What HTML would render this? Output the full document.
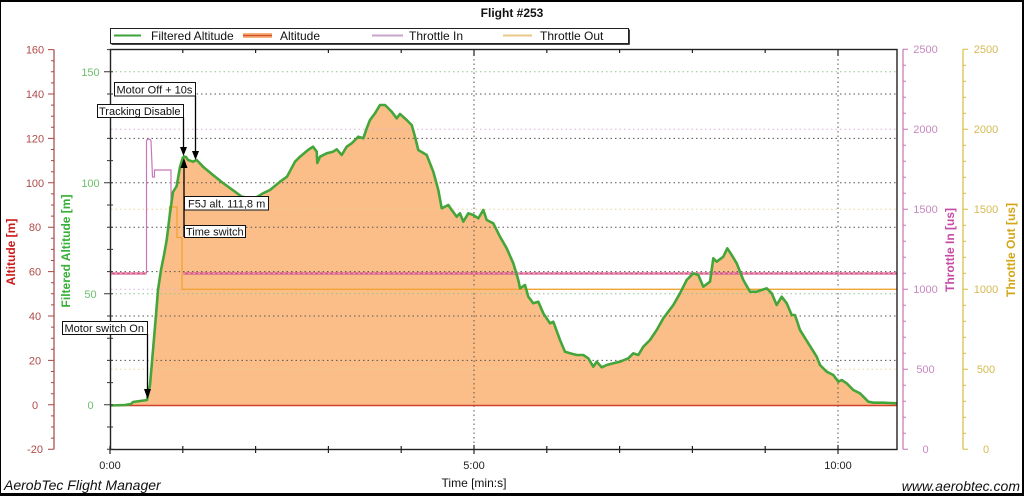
<!DOCTYPE html>
<html><head><meta charset="utf-8"><style>
html,body{margin:0;padding:0;background:#fff;}
svg{display:block;}
text{font-family:"Liberation Sans",Arial,sans-serif;}
</style></head><body>
<svg width="1024" height="496" viewBox="0 0 1024 496" xmlns="http://www.w3.org/2000/svg">
<rect x="0" y="0" width="1024" height="496" fill="#fff"/>
<!-- outer border -->
<rect x="0" y="0" width="1024" height="2" fill="#000"/>
<rect x="0" y="493" width="1024" height="3" fill="#000"/>
<rect x="0" y="0" width="1" height="496" fill="#000"/>
<rect x="1022" y="0" width="2" height="496" fill="#000"/>

<!-- title -->
<text x="512" y="17" font-size="12" font-weight="bold" text-anchor="middle" fill="#111">Flight #253</text>

<!-- legend -->
<rect x="110.5" y="28.5" width="518" height="15" fill="#fff" stroke="#222" stroke-width="1"/>
<line x1="629.5" y1="29.5" x2="629.5" y2="44.5" stroke="#444" stroke-width="1"/>
<line x1="111.5" y1="44.5" x2="629.5" y2="44.5" stroke="#444" stroke-width="1"/>
<line x1="114" y1="35.5" x2="141" y2="35.5" stroke="#3ea23a" stroke-width="2"/>
<text x="151" y="40" font-size="12" fill="#111">Filtered Altitude</text>
<line x1="243" y1="35.5" x2="272" y2="35.5" stroke="#f7b47c" stroke-width="5"/>
<line x1="243" y1="35.5" x2="272" y2="35.5" stroke="#d2502a" stroke-width="1.5"/>
<text x="280" y="40" font-size="12" fill="#111">Altitude</text>
<line x1="372" y1="35.5" x2="403" y2="35.5" stroke="#c9a6c9" stroke-width="2"/>
<text x="409" y="40" font-size="12" fill="#111">Throttle In</text>
<line x1="503" y1="35.5" x2="532" y2="35.5" stroke="#e8c98a" stroke-width="2"/>
<text x="540" y="40" font-size="12" fill="#111">Throttle Out</text>

<!-- fill under filtered altitude -->
<path fill="#fcbe88" stroke="none" d="M110,405.5 L125,405 L131,404 L133,402 L147,400 L150,385 L153,350 L156,315 L158,290 L161,270 L164,255 L166.7,240 L170,213 L173,192 L176.7,186 L180,167 L182.7,158 L184,156.5 L186,157 L188,160 L193,161.7 L196.7,160 L203,166.7 L213,175 L223,183 L235,191.7 L241.7,196.7 L250,198 L257,197 L263,193.3 L270,190 L280,181.7 L287,176.7 L295,161.7 L300,156.7 L308,150 L313,146.7 L316.7,151.7 L317.3,163 L320,156.7 L326.7,153.3 L333,151.7 L336.7,149.3 L341.7,155 L346.7,146.7 L351.7,143.3 L355,140 L358.3,136.7 L363.3,138.3 L366.7,128.3 L370,120 L375,113.3 L380,105 L385,105 L391.7,111.7 L396.7,118.3 L400,114 L406.7,120 L411.7,125 L415,136.7 L418.3,150 L426.7,155 L433.3,171.7 L438.3,190 L441.7,208.3 L448.3,205 L451.7,210 L456.7,216.7 L460,213.3 L463.3,221.7 L468.3,213.3 L473.3,215 L478.3,218.3 L483.3,210 L486.7,220 L493.3,223.3 L500,236.7 L506.7,248.3 L513.3,263.3 L518.3,280 L520,288.3 L525,285 L528.3,296.7 L533.3,303.3 L538.3,301.7 L543.3,313.3 L550,323.3 L553.3,321.7 L560,340 L565,351.7 L570,353.3 L576.7,355 L583.3,355 L588.3,358.3 L593.3,366.7 L596.7,361.7 L601.7,367.3 L606.7,365 L613.3,363.3 L620,361.7 L628.3,358.3 L633.3,353.3 L638.3,355 L643.3,346.7 L650,340 L656.7,330 L663.3,318.3 L673.3,305 L680,293.3 L686.7,280 L693.3,273.3 L698.3,275 L703.3,286.7 L710,281.7 L713.3,258.3 L716.7,261.7 L723.3,256.7 L727.3,248.3 L731.7,255 L736.7,263.3 L743.3,280 L750,291.7 L756.7,291.7 L761.7,290 L766.7,288.3 L771.7,293.3 L776.7,305 L781.7,296.7 L786.7,303.3 L791.7,315 L795,315 L800,330 L808.3,343.3 L816.7,356.7 L820,365 L826.7,371.7 L833.3,375 L838.3,381.7 L841.7,380 L846.7,383.3 L853.3,390 L860,393.3 L868.3,401.7 L873.3,402.7 L883.3,402.7 L896.7,403.3 L897,405.5 Z"/>

<!-- grid lines -->
<g stroke-width="1" stroke-dasharray="1.5 3" fill="none">
  <g stroke="#555">
    <line x1="111" y1="94" x2="896" y2="94"/>
    <line x1="111" y1="138.4" x2="896" y2="138.4"/>
    <line x1="111" y1="182.8" x2="896" y2="182.8"/>
    <line x1="111" y1="227.2" x2="896" y2="227.2"/>
    <line x1="111" y1="271.6" x2="896" y2="271.6"/>
    <line x1="111" y1="316" x2="896" y2="316"/>
    <line x1="111" y1="360.4" x2="896" y2="360.4"/>
    <line x1="474" y1="50" x2="474" y2="449"/>
    <line x1="838" y1="50" x2="838" y2="449"/>
  </g>
  <g stroke="#8cc88c">
    <line x1="111" y1="71.8" x2="896" y2="71.8"/>
    <line x1="111" y1="293.8" x2="896" y2="293.8"/>
  </g>
  <g stroke="#dcb0d4">
    <line x1="111" y1="129.2" x2="896" y2="129.2"/>
    <line x1="111" y1="289.2" x2="896" y2="289.2"/>
  </g>
  <g stroke="#e2d49a">
    <line x1="111" y1="209.2" x2="896" y2="209.2"/>
    <line x1="111" y1="369.2" x2="896" y2="369.2"/>
  </g>
</g>

<!-- altitude red line -->
<line x1="110" y1="405.5" x2="897" y2="405.5" stroke="#d0402a" stroke-width="1.6"/>

<!-- throttle in -->
<path d="M146.5,273.5 V141 C147,138.5 150,138.5 151,141 L152.5,177 H154.5 V170 H171 V212" fill="none" stroke="#c878b8" stroke-width="1.2"/>
<path d="M110,273.5 H146.5 M183,273.5 H897" fill="none" stroke="#d65a8c" stroke-width="2.2"/>
<path d="M110,273.5 H146.5 M183,273.5 H897" fill="none" stroke="#ee9ab8" stroke-width="1" stroke-dasharray="2 3"/>

<!-- throttle out -->
<path d="M169.5,222 V207 H177 V237.5 H182 V289.3 H897" fill="none" stroke="#f0a434" stroke-width="1.3"/>

<!-- filtered altitude green line -->
<path fill="none" stroke="#44a63a" stroke-width="2.6" stroke-linejoin="round" d="M110,405.5 L125,405 L131,404 L133,402 L147,400 L150,385 L153,350 L156,315 L158,290 L161,270 L164,255 L166.7,240 L170,213 L173,192 L176.7,186 L180,167 L182.7,158 L184,156.5 L186,157 L188,160 L193,161.7 L196.7,160 L203,166.7 L213,175 L223,183 L235,191.7 L241.7,196.7 L250,198 L257,197 L263,193.3 L270,190 L280,181.7 L287,176.7 L295,161.7 L300,156.7 L308,150 L313,146.7 L316.7,151.7 L317.3,163 L320,156.7 L326.7,153.3 L333,151.7 L336.7,149.3 L341.7,155 L346.7,146.7 L351.7,143.3 L355,140 L358.3,136.7 L363.3,138.3 L366.7,128.3 L370,120 L375,113.3 L380,105 L385,105 L391.7,111.7 L396.7,118.3 L400,114 L406.7,120 L411.7,125 L415,136.7 L418.3,150 L426.7,155 L433.3,171.7 L438.3,190 L441.7,208.3 L448.3,205 L451.7,210 L456.7,216.7 L460,213.3 L463.3,221.7 L468.3,213.3 L473.3,215 L478.3,218.3 L483.3,210 L486.7,220 L493.3,223.3 L500,236.7 L506.7,248.3 L513.3,263.3 L518.3,280 L520,288.3 L525,285 L528.3,296.7 L533.3,303.3 L538.3,301.7 L543.3,313.3 L550,323.3 L553.3,321.7 L560,340 L565,351.7 L570,353.3 L576.7,355 L583.3,355 L588.3,358.3 L593.3,366.7 L596.7,361.7 L601.7,367.3 L606.7,365 L613.3,363.3 L620,361.7 L628.3,358.3 L633.3,353.3 L638.3,355 L643.3,346.7 L650,340 L656.7,330 L663.3,318.3 L673.3,305 L680,293.3 L686.7,280 L693.3,273.3 L698.3,275 L703.3,286.7 L710,281.7 L713.3,258.3 L716.7,261.7 L723.3,256.7 L727.3,248.3 L731.7,255 L736.7,263.3 L743.3,280 L750,291.7 L756.7,291.7 L761.7,290 L766.7,288.3 L771.7,293.3 L776.7,305 L781.7,296.7 L786.7,303.3 L791.7,315 L795,315 L800,330 L808.3,343.3 L816.7,356.7 L820,365 L826.7,371.7 L833.3,375 L838.3,381.7 L841.7,380 L846.7,383.3 L853.3,390 L860,393.3 L868.3,401.7 L873.3,402.7 L883.3,402.7 L896.7,403.3"/>

<!-- plot frame -->
<rect x="110.5" y="49.5" width="786.5" height="400" fill="none" stroke="#222" stroke-width="1.4"/>
<!-- x ticks -->
<path stroke="#222" stroke-width="1.2" fill="none" d="M182.8,49 v4 M255.6,49 v4 M328.4,49 v4 M401.2,49 v4 M474,49 v7 M546.8,49 v4 M619.6,49 v4 M692.4,49 v4 M765.2,49 v4 M838,49 v7
M110,446 v8 M182.8,446 v7 M255.6,446 v7 M328.4,446 v7 M401.2,446 v7 M474,445 v9 M546.8,446 v7 M619.6,446 v7 M692.4,446 v7 M765.2,446 v7 M838,445 v9"/>
<!-- green axis ticks on frame -->
<path stroke="#333" stroke-width="1" fill="none" d="M107,449.2 h6 m-6,-22.2 h6 m-6,-22.2 h6 m-6,-22.2 h6 m-6,-22.2 h6 m-6,-22.2 h6 m-6,-22.2 h6 m-6,-22.2 h6 m-6,-22.2 h6 m-6,-22.2 h6 m-6,-22.2 h6 m-6,-22.2 h6 m-6,-22.2 h6 m-6,-22.2 h6 m-6,-22.2 h6 m-6,-22.2 h6 m-6,-22.2 h6 m-6,-22.2 h6 m-6,-22.2 h6
M104,404.8 h6 M104,293.8 h6 M104,182.8 h6 M104,71.8 h6"/>
<!-- x labels -->
<g font-size="11" fill="#222" text-anchor="middle">
  <text x="110" y="469">0:00</text>
  <text x="474" y="469">5:00</text>
  <text x="838" y="469">10:00</text>
</g>
<text x="474" y="487" font-size="12" fill="#111" text-anchor="middle">Time [min:s]</text>

<!-- red altitude axis -->
<line x1="54" y1="49.6" x2="54" y2="449.2" stroke="#a84444" stroke-width="1.2"/>
<path stroke="#a84444" stroke-width="1" fill="none" d="M51,49.6 h3 m-3,11.1 h3 m-3,11.1 h3 m-3,11.1 h3 m-3,11.1 h3 m-3,11.1 h3 m-3,11.1 h3 m-3,11.1 h3 m-3,11.1 h3 m-3,11.1 h3 m-3,11.1 h3 m-3,11.1 h3 m-3,11.1 h3 m-3,11.1 h3 m-3,11.1 h3 m-3,11.1 h3 m-3,11.1 h3 m-3,11.1 h3 m-3,11.1 h3 m-3,11.1 h3 m-3,11.1 h3 m-3,11.1 h3 m-3,11.1 h3 m-3,11.1 h3 m-3,11.1 h3 m-3,11.1 h3 m-3,11.1 h3 m-3,11.1 h3 m-3,11.1 h3 m-3,11.1 h3 m-3,11.1 h3 m-3,11.1 h3 m-3,11.1 h3 m-3,11.1 h3 m-3,11.1 h3 m-3,11.1 h3
M48,49.6 h6 m-6,44.4 h6 m-6,44.4 h6 m-6,44.4 h6 m-6,44.4 h6 m-6,44.4 h6 m-6,44.4 h6 m-6,44.4 h6 m-6,44.4 h6 m-6,44.4 h6"/>
<g font-size="11" fill="#b04a4a" text-anchor="middle">
  <text x="35" y="53.6">160</text>
  <text x="35" y="98">140</text>
  <text x="35" y="142.4">120</text>
  <text x="35" y="186.8">100</text>
  <text x="35" y="231.2">80</text>
  <text x="35" y="275.6">60</text>
  <text x="35" y="320">40</text>
  <text x="35" y="364.4">20</text>
  <text x="35" y="408.8">0</text>
  <text x="35" y="453.2">-20</text>
</g>
<text transform="translate(15,252) rotate(-90)" font-size="12" font-weight="bold" fill="#cc1a1a" text-anchor="middle">Altitude [m]</text>

<!-- green axis labels -->
<g font-size="11" fill="#6cbf6c" text-anchor="middle">
  <text x="90.5" y="75.8">150</text>
  <text x="90.5" y="186.8">100</text>
  <text x="90.5" y="297.8">50</text>
  <text x="90.5" y="408.8">0</text>
</g>
<text transform="translate(70,251) rotate(-90)" font-size="12" font-weight="bold" fill="#36b036" text-anchor="middle">Filtered Altitude [m]</text>

<!-- throttle in axis -->
<line x1="903" y1="49.2" x2="903" y2="449.2" stroke="#c476b4" stroke-width="1.2"/>
<path stroke="#c476b4" stroke-width="1" fill="none" d="M903,49.2 h3 m-3,16 h3 m-3,16 h3 m-3,16 h3 m-3,16 h3 m-3,16 h3 m-3,16 h3 m-3,16 h3 m-3,16 h3 m-3,16 h3 m-3,16 h3 m-3,16 h3 m-3,16 h3 m-3,16 h3 m-3,16 h3 m-3,16 h3 m-3,16 h3 m-3,16 h3 m-3,16 h3 m-3,16 h3 m-3,16 h3 m-3,16 h3 m-3,16 h3 m-3,16 h3 m-3,16 h3 m-3,16 h3
M903,49.2 h5 m-5,80 h5 m-5,80 h5 m-5,80 h5 m-5,80 h5 m-5,80 h5"/>
<g font-size="11" fill="#c888c0" text-anchor="middle">
  <text x="925.5" y="53.2">2500</text>
  <text x="925.5" y="133.2">2000</text>
  <text x="925.5" y="213.2">1500</text>
  <text x="925.5" y="293.2">1000</text>
  <text x="925.5" y="373.2">500</text>
  <text x="925.5" y="453.2">0</text>
</g>
<text transform="translate(954,250) rotate(-90)" font-size="12" font-weight="bold" fill="#c64aa6" text-anchor="middle">Throttle In [us]</text>

<!-- throttle out axis -->
<line x1="963" y1="49.2" x2="963" y2="449.2" stroke="#d8bc3c" stroke-width="1.2"/>
<path stroke="#d8bc3c" stroke-width="1" fill="none" d="M963,49.2 h3 m-3,16 h3 m-3,16 h3 m-3,16 h3 m-3,16 h3 m-3,16 h3 m-3,16 h3 m-3,16 h3 m-3,16 h3 m-3,16 h3 m-3,16 h3 m-3,16 h3 m-3,16 h3 m-3,16 h3 m-3,16 h3 m-3,16 h3 m-3,16 h3 m-3,16 h3 m-3,16 h3 m-3,16 h3 m-3,16 h3 m-3,16 h3 m-3,16 h3 m-3,16 h3 m-3,16 h3 m-3,16 h3
M963,49.2 h5 m-5,80 h5 m-5,80 h5 m-5,80 h5 m-5,80 h5 m-5,80 h5"/>
<g font-size="11" fill="#d6ba52" text-anchor="middle">
  <text x="986" y="53.2">2500</text>
  <text x="986" y="133.2">2000</text>
  <text x="986" y="213.2">1500</text>
  <text x="986" y="293.2">1000</text>
  <text x="986" y="373.2">500</text>
  <text x="986" y="453.2">0</text>
</g>
<text transform="translate(1015,250) rotate(-90)" font-size="12" font-weight="bold" fill="#d2a616" text-anchor="middle">Throttle Out [us]</text>

<!-- annotations -->
<g stroke="#000" stroke-width="1.3" fill="none">
  <line x1="147.5" y1="334" x2="147.5" y2="391"/>
  <line x1="183.5" y1="117.5" x2="183.5" y2="148"/>
  <line x1="195.5" y1="96" x2="195.5" y2="152"/>
  <line x1="184" y1="166" x2="184" y2="237"/>
</g>
<g fill="#000">
  <polygon points="144,389 151,389 147.5,399"/>
  <polygon points="180,147 187,147 183.5,156"/>
  <polygon points="192,151 199,151 195.5,160"/>
  <polygon points="180.5,168 187.5,168 184,158"/>
</g>
<g font-size="11" fill="#111">
  <rect x="62.5" y="321.5" width="85" height="13" fill="#fff" stroke="#111"/>
  <text x="64.5" y="332">Motor switch On</text>
  <rect x="97.5" y="104.5" width="86" height="13" fill="#fff" stroke="#111"/>
  <text x="99" y="115">Tracking Disable</text>
  <rect x="114.5" y="82.5" width="81" height="13.5" fill="#fff" stroke="#111"/>
  <text x="116.5" y="93.5">Motor Off + 10s</text>
  <rect x="184.5" y="196.5" width="84" height="13.5" fill="#fff" stroke="#111"/>
  <text x="188" y="207.5">F5J alt. 111,8 m</text>
  <rect x="184.5" y="225.5" width="61" height="12" fill="#fff" stroke="#111"/>
  <text x="186" y="235.5">Time switch</text>
</g>

<!-- footer -->
<text x="4" y="490" font-size="14" font-style="italic" fill="#111">AerobTec Flight Manager</text>
<text x="1020" y="491" font-size="14" font-style="italic" fill="#111" text-anchor="end">www.aerobtec.com</text>
</svg>
</body></html>
